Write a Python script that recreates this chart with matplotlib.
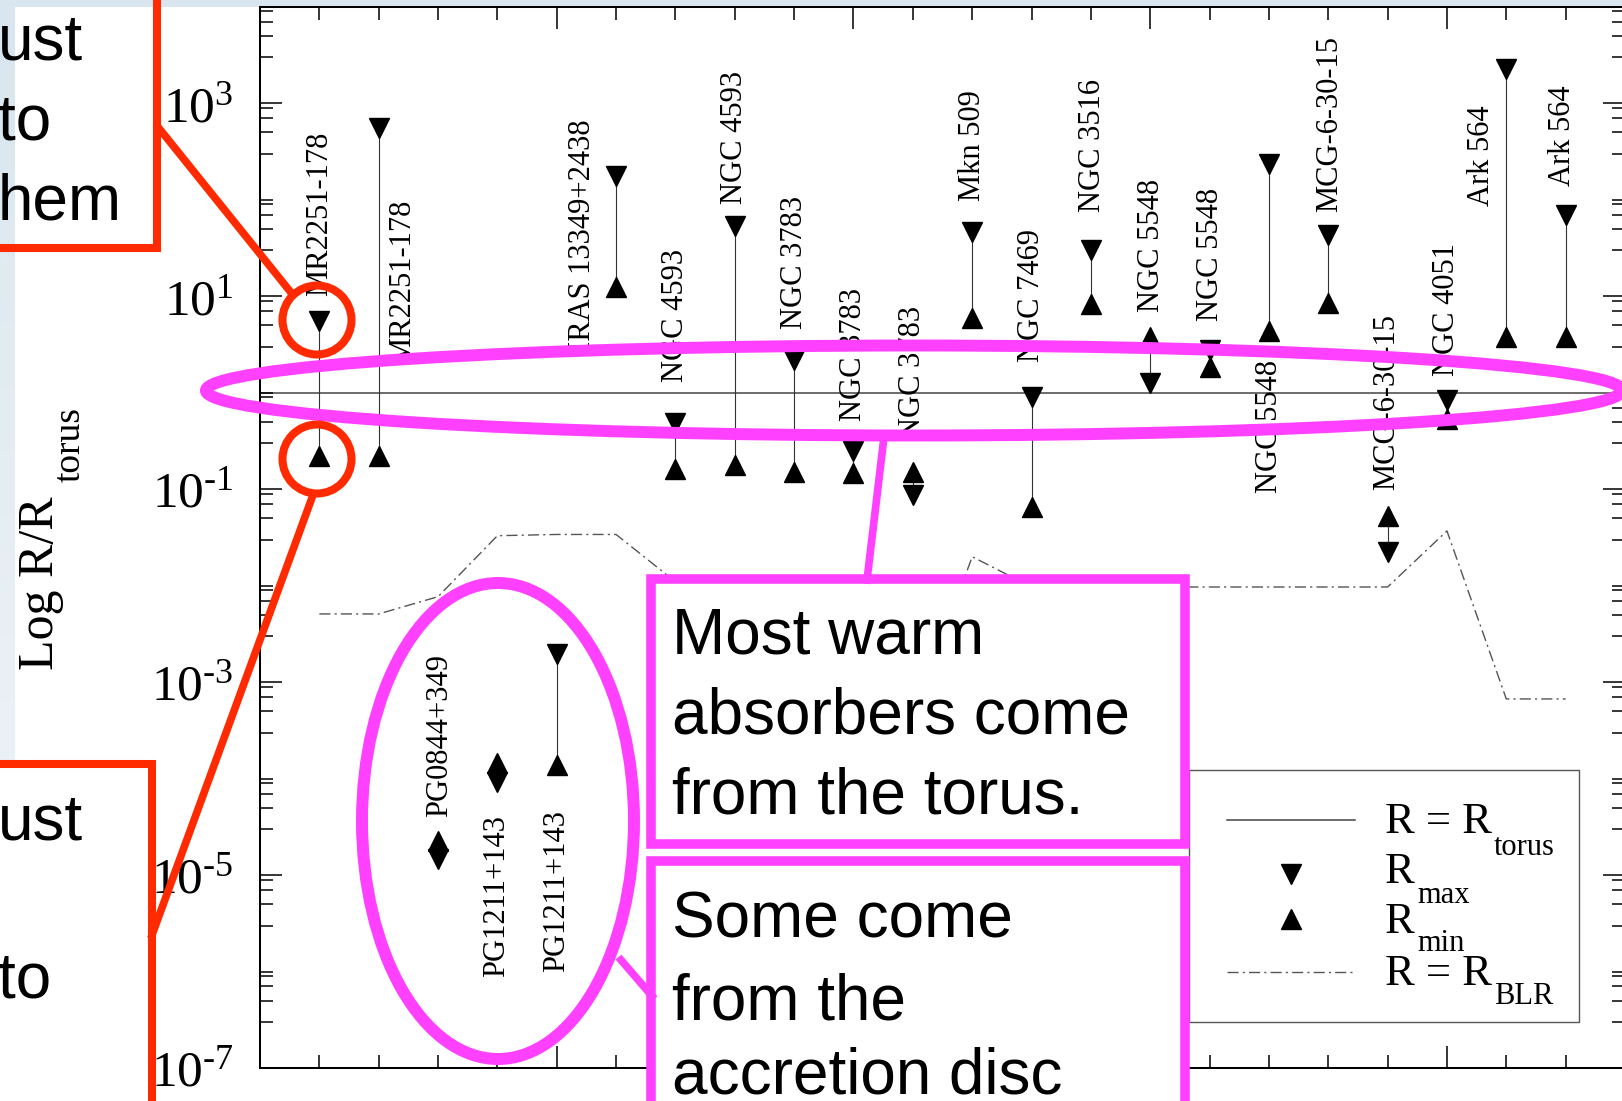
import numpy as np
import matplotlib
matplotlib.use("Agg")
import matplotlib.pyplot as plt
from matplotlib.patches import Rectangle, Ellipse, Circle
from matplotlib.colors import LinearSegmentedColormap
from matplotlib.ticker import FixedLocator, FixedFormatter, NullFormatter

# one object per x slot (1..22)
names = ["MR2251-178", "MR2251-178", "PG0844+349", "PG1211+143", "PG1211+143",
         "IRAS 13349+2438", "NGC 4593", "NGC 4593", "NGC 3783", "NGC 3783",
         "NGC 3783", "Mkn 509", "NGC 7469", "NGC 3516", "NGC 5548", "NGC 5548",
         "NGC 5548", "MCG-6-30-15", "MCG-6-30-15", "NGC 4051", "Ark 564", "Ark 564"]
r_max = [5.6, 560, 1.47e-5, 9.3e-5, 1.97e-3, 178, 0.49, 54, 2.2, 0.25,
         0.088, 47, 0.91, 30, 1.27, 2.8, 237, 43, 0.0224, 0.845, 2290, 70]
r_min = [0.22, 0.22, 2.26e-5, 1.46e-4, 1.39e-4, 12.6, 0.163, 0.179, 0.152, 0.148,
         0.152, 6.0, 0.066, 8.4, 3.8, 1.86, 4.4, 8.6, 0.053, 0.537, 3.8, 3.8]
r_blr = [5.1e-3, 5.1e-3, 7.7e-3, 0.033, 0.034, 0.034, 0.011, 0.009, 0.009, 0.009,
         0.0004, 0.020, 0.0097, 0.0097, 0.0097, 0.0097, 0.0097, 0.0097, 0.0097,
         0.037, 6.7e-4, 6.7e-4]

# where each rotated name sits (x, and value at the lower end of the text)
label_x = [1.0, 2.41, 3.02, 3.99, 5.0, 5.44, 7.0, 8.0, 9.0, 10.0, 11.0, 12.0,
           13.0, 14.03, 15.02, 16.02, 17.01, 18.02, 18.98, 20.0, 20.58, 21.95]
label_y = [10, 2.0, 4.0e-5, 8.8e-7, 1.0e-6, 2.7, 1.3, 91, 4.6, 0.51, 0.33, 98,
           2.1, 75, 6.9, 5.6, 0.092, 75, 0.0986, 1.5, 87, 140]

y_major_exp = [-7, -5, -3, -1, 1, 3]

W, H = 1622, 1101
PINK = "#ff40ff"
RED = "#ff2a00"

plt.rcParams["font.family"] = ["Liberation Serif", "DejaVu Serif"]
plt.rcParams["mathtext.fontset"] = "custom"
plt.rcParams["mathtext.rm"] = "Liberation Serif"
plt.rcParams["mathtext.it"] = "Liberation Serif:italic"
plt.rcParams["mathtext.bf"] = "Liberation Serif:bold"

fig = plt.figure(figsize=(W / 100, H / 100), dpi=100)

# slide background + white picture area
bg = fig.add_axes([0, 0, 1, 1], zorder=-10)
cmap = LinearSegmentedColormap.from_list("slide", ["#d9e6ef", "#f3f7fa"])
bg.imshow(np.linspace(0, 1, 256)[:, None], cmap=cmap, aspect="auto",
          extent=(0, W, H, 0))
bg.add_patch(Rectangle((15, 7), W - 15, H, facecolor="white", edgecolor="none"))
bg.set_xlim(0, W)
bg.set_ylim(H, 0)
bg.axis("off")

# the chart itself
ax = fig.add_axes([260 / W, 1 - 1068 / H, 1365 / W, 1061 / H])
xs = np.arange(1, len(names) + 1)
ax.set_yscale("log")
ax.axhline(1.0, color="#444444", lw=1.1, zorder=1)
ax.plot(xs, r_blr, color="#555555", lw=1.0, dashes=(8, 3, 1.5, 3), zorder=1)
ax.vlines(xs, r_min, r_max, color="#333333", lw=0.8, zorder=2)
ax.plot(xs, r_max, linestyle="none", marker="v", ms=14.5, color="black", zorder=3)
ax.plot(xs, r_min, linestyle="none", marker="^", ms=14.5, color="black", zorder=3)
for name, lx, ly in zip(names, label_x, label_y):
    ax.text(lx, ly, name, rotation=90, ha="center", va="bottom", fontsize=22)

ax.set_xlim(0, 23)
ax.set_ylim(1e-7, 1e4)
ax.xaxis.set_major_locator(FixedLocator([5, 10, 15, 20]))
ax.xaxis.set_minor_locator(FixedLocator(list(range(1, 23))))
ax.xaxis.set_major_formatter(NullFormatter())
y_major = [10.0 ** e for e in y_major_exp]
y_minor = [m * 10.0 ** e for e in range(-7, 4) for m in (1, 3, 5, 7, 9)
           if not (m == 1 and e % 2 == 1) and m * 10.0 ** e < 1e4]
ax.yaxis.set_major_locator(FixedLocator(y_major))
ax.yaxis.set_minor_locator(FixedLocator(y_minor))
ax.yaxis.set_major_formatter(FixedFormatter(
    [r"$\mathregular{10^{%s}}$" % str(e).replace("-", "\u2010") for e in y_major_exp]))
ax.yaxis.set_minor_formatter(NullFormatter())
ax.tick_params(which="both", direction="in", top=True, right=True, width=1.1)
ax.tick_params(which="major", length=16)
ax.tick_params(which="minor", length=9.5)
ax.tick_params(axis="y", which="major", labelsize=37, pad=19)
for sp in ax.spines.values():
    sp.set_linewidth(1.45)

# overlay in pixel units: axis title, legend and slide callouts
ov = fig.add_axes([0, 0, 1, 1], zorder=5)
ov.patch.set_visible(False)
ov.set_autoscale_on(False)
ov.set_xlim(0, W)
ov.set_ylim(H, 0)
ov.axis("off")

ov.text(53, 670, "Log R/R", rotation=90, rotation_mode="anchor",
        ha="left", va="baseline", fontsize=36)
ov.text(80, 482, "torus", rotation=90, rotation_mode="anchor",
        ha="left", va="baseline", fontsize=27)

# legend
ov.add_patch(Rectangle((1189, 770), 390, 252, facecolor="white",
                       edgecolor="#555555", lw=1.0))
ov.plot([1227, 1355], [820, 820], color="#444444", lw=1.1)
ov.plot([1291], [874], marker="v", ms=14.5, color="black", linestyle="none")
ov.plot([1291], [919], marker="^", ms=14.5, color="black", linestyle="none")
ov.plot([1227, 1355], [972, 972], color="#555555", lw=1.0, dashes=(8, 3, 1.5, 3))
ov.text(1385, 833, "R = R", fontsize=32, va="baseline")
ov.text(1494, 855, "torus", fontsize=22, va="baseline")
ov.text(1385, 883, "R", fontsize=32, va="baseline")
ov.text(1417, 903, "max", fontsize=22, va="baseline")
ov.text(1385, 933, "R", fontsize=32, va="baseline")
ov.text(1417, 951, "min", fontsize=22, va="baseline")
ov.text(1385, 985, "R = R", fontsize=32, va="baseline")
ov.text(1494, 1004, "BLR", fontsize=22, va="baseline")

# magenta callouts
ov.add_patch(Ellipse((914, 390.5), 1416, 90, fill=False, ec=PINK, lw=8.6))
ov.add_patch(Ellipse((498, 821), 272, 476, fill=False, ec=PINK, lw=8.6))
ov.plot([867, 884], [580, 437], color=PINK, lw=5.5)
ov.plot([621, 652], [960, 996], color=PINK, lw=5.5)
ov.add_patch(Rectangle((651, 579), 534, 265, fc="white", ec=PINK, lw=6.9))
ov.add_patch(Rectangle((651, 861), 534, 300, fc="white", ec=PINK, lw=6.9))
sans = dict(family="Liberation Sans", fontsize=46, va="baseline", color="black")
for yb, line in zip([654, 734, 813], ["Most warm", "absorbers come", "from the torus."]):
    ov.text(672, yb, line, **sans)
for yb, line in zip([938, 1019, 1094], ["Some come", "from the", "accretion disc"]):
    ov.text(672, yb, line, **sans)

# red callouts (cut off by the left edge of the slide)
ov.add_patch(Rectangle((-30, -30), 187, 278, fill=False, ec=RED, lw=5.8))
ov.add_patch(Rectangle((-30, 764), 182, 400, fc="white", ec=RED, lw=5.8))
ov.add_patch(Circle((317, 320), 34.5, fill=False, ec=RED, lw=5.8))
ov.add_patch(Circle((317, 459), 34.5, fill=False, ec=RED, lw=5.8))
ov.plot([158, 293], [127, 295], color=RED, lw=5.5)
ov.plot([152, 313], [935, 495], color=RED, lw=5.5)
for yb, line in zip([60, 140, 219], ["ust", "to", "hem"]):
    ov.text(-2, yb, line, **sans)
for yb, line in zip([840, 998], ["ust", "to"]):
    ov.text(-2, yb, line, **sans)

fig.savefig("out.png", dpi=100)
